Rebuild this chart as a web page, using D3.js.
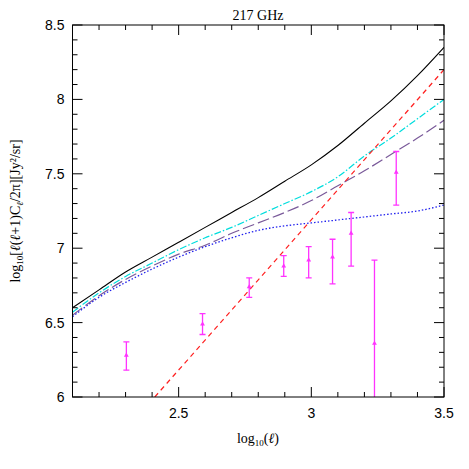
<!DOCTYPE html><html><head><script src="https://cdn.jsdelivr.net/npm/d3@7"></script>
<style>body{margin:0;background:#fff}</style></head><body><svg id="c" width="469" height="469"></svg><script>
const xs=[2.1,2.2,2.3,2.4,2.5,2.6,2.7,2.8,2.9,3.0,3.1,3.2,3.3,3.4,3.5];
const total=[6.60,6.72,6.84,6.94,7.04,7.14,7.24,7.34,7.45,7.56,7.69,7.84,7.99,8.16,8.35];
const cyan=[6.57,6.70,6.81,6.90,6.99,7.07,7.14,7.22,7.30,7.38,7.48,7.62,7.74,7.87,8.0];
const purple=[6.55,6.68,6.79,6.88,6.96,7.02,7.10,7.17,7.24,7.32,7.42,7.52,7.63,7.74,7.86];
const blue=[6.54,6.67,6.77,6.86,6.94,7.01,7.07,7.12,7.15,7.17,7.19,7.21,7.23,7.25,7.29];
const redX=[2.41,3.5], redY=[6.0,8.2];
const dX=[2.303,2.59,2.766,2.896,2.99,3.08,3.15,3.238,3.32];
const dY=[6.28,6.49,6.74,6.88,6.92,6.94,7.10,6.36,7.51];
const dLo=[6.18,6.42,6.67,6.81,6.80,6.76,6.88,5.9,7.29];
const dHi=[6.37,6.56,6.80,6.95,7.01,7.06,7.24,6.92,7.65];
const xTicks=[2.5,3,3.5], yTicks=[6,6.5,7,7.5,8,8.5];
const svg=d3.select("#c");
const L=72.5,R=444,T=25,B=397;
const x=d3.scaleLinear().domain([2.1,3.5]).range([L,R]);
const y=d3.scaleLinear().domain([6,8.5]).range([B,T]);
svg.append("clipPath").attr("id","cp").append("rect").attr("x",L).attr("y",T).attr("width",R-L).attr("height",B-T);
const g=svg.append("g").attr("clip-path","url(#cp)");
const ln=d3.line().x(d=>x(d[0])).y(d=>y(d[1])).curve(d3.curveMonotoneX);
function draw(X,Y,col,dash,w){g.append("path").attr("d",ln(X.map((v,i)=>[v,Y[i]]))).attr("fill","none").attr("stroke",col).attr("stroke-width",w||1).attr("stroke-dasharray",dash);}
draw(xs,blue,"#2020ee","1.5,2",1.3);
draw(xs,purple,"#7a5a9a","12,4",1.2);
draw(xs,cyan,"#00dddd","7,2,1.5,2",1.2);
draw(redX,redY,"#ff2020","5,4",1.2);
draw(xs,total,"#000","",1.1);
dX.forEach((v,i)=>{
 const cx=x(v);
 g.append("line").attr("x1",cx).attr("x2",cx).attr("y1",y(dLo[i])).attr("y2",y(dHi[i])).attr("stroke","#ff33ff").attr("stroke-width",1.3);
 [dLo[i],dHi[i]].forEach(e=>{if(e>=6)g.append("line").attr("x1",cx-3).attr("x2",cx+3).attr("y1",y(e)).attr("y2",y(e)).attr("stroke","#ff33ff").attr("stroke-width",1.3);});
 g.append("path").attr("d",d3.symbol(d3.symbolTriangle,10)()).attr("transform",`translate(${cx},${y(dY[i])})`).attr("fill","#ff33ff");
});
svg.append("rect").attr("x",L).attr("y",T).attr("width",R-L).attr("height",B-T).attr("fill","none").attr("stroke","#000");
const tk=svg.append("g").attr("stroke","#000");
d3.range(2.1,3.5001,0.1).forEach(v=>{const big=Math.abs(v*2-Math.round(v*2))<1e-6,len=big?10:5;
 tk.append("line").attr("x1",x(v)).attr("x2",x(v)).attr("y1",B).attr("y2",B-len);
 tk.append("line").attr("x1",x(v)).attr("x2",x(v)).attr("y1",T).attr("y2",T+len);});
d3.range(6,8.5001,0.1).forEach(v=>{const big=Math.abs(v*2-Math.round(v*2))<1e-6,len=big?10:5;
 tk.append("line").attr("y1",y(v)).attr("y2",y(v)).attr("x1",L).attr("x2",L+len);
 tk.append("line").attr("y1",y(v)).attr("y2",y(v)).attr("x1",R).attr("x2",R-len);});
const f="Liberation Sans, Arial, sans-serif";
xTicks.forEach(v=>svg.append("text").attr("x",x(v)).attr("y",B+21).attr("text-anchor","middle").attr("font-family",f).attr("font-size",14).text(v));
yTicks.forEach(v=>svg.append("text").attr("x",L-8).attr("y",y(v)+5).attr("text-anchor","end").attr("font-family",f).attr("font-size",14).text(v));
const sf="Liberation Serif, Times New Roman, serif";
svg.append("text").attr("x",258).attr("y",20).attr("text-anchor","middle").attr("font-family",sf).attr("font-size",14).text("217 GHz");
const xl=svg.append("text").attr("x",258).attr("y",443).attr("text-anchor","middle").attr("font-family",sf).attr("font-size",14);
xl.append("tspan").text("log");xl.append("tspan").attr("font-size",9).attr("dy",3).text("10");xl.append("tspan").attr("dy",-3).text("(");xl.append("tspan").attr("font-style","italic").text("ℓ");xl.append("tspan").text(")");
const yl=svg.append("text").attr("transform","translate(20,211) rotate(-90)").attr("text-anchor","middle").attr("font-family",sf).attr("font-size",14);
yl.append("tspan").text("log");yl.append("tspan").attr("font-size",9).attr("dy",3).text("10");yl.append("tspan").attr("dy",-3).text("[");
yl.append("tspan").attr("font-style","italic").text("ℓ");yl.append("tspan").text("(");yl.append("tspan").attr("font-style","italic").text("ℓ");
yl.append("tspan").text("+1)C");yl.append("tspan").attr("font-size",9).attr("dy",3).attr("font-style","italic").text("ℓ");yl.append("tspan").attr("dy",-3).text("/2π][Jy²/sr]");
</script></body></html>
